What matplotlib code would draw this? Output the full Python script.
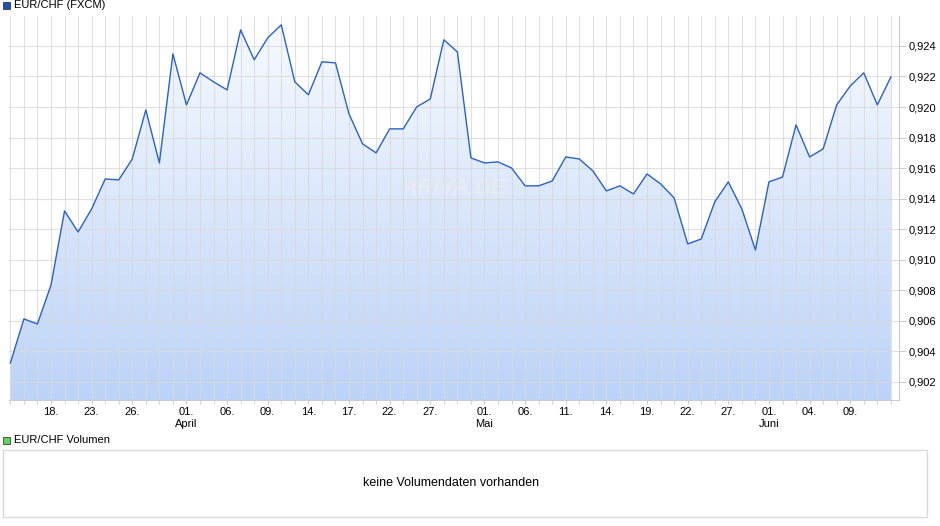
import numpy as np
import matplotlib
matplotlib.use("Agg")
import matplotlib.pyplot as plt
from matplotlib.patches import Polygon, Rectangle

# EUR/CHF daily closes
prices = [0.90324, 0.90613, 0.90580, 0.90835, 0.91320, 0.91182, 0.91333, 0.91529, 0.91523, 0.91660,
          0.91981, 0.91634, 0.92348, 0.92014, 0.92224, 0.92165, 0.92112, 0.92505, 0.92309, 0.92453,
          0.92538, 0.92165, 0.92080, 0.92296, 0.92289, 0.91955, 0.91759, 0.91700, 0.91857, 0.91857,
          0.92001, 0.92053, 0.92440, 0.92361, 0.91667, 0.91634, 0.91641, 0.91601, 0.91484, 0.91484,
          0.91516, 0.91673, 0.91660, 0.91582, 0.91451, 0.91484, 0.91431, 0.91562, 0.91497, 0.91405,
          0.91104, 0.91136, 0.91379, 0.91510, 0.91333, 0.91064, 0.91510, 0.91542, 0.91883, 0.91673,
          0.91726, 0.92014, 0.92138, 0.92224, 0.92014, 0.92197]
tick_idx = [3, 6, 9, 13, 16, 19, 22, 25, 28, 31, 35, 38, 41, 44, 47, 50, 53, 56, 59, 62]
tick_lbl = ["18.", "23.", "26.", "01.\nApril", "06.", "09.", "14.", "17.", "22.", "27.",
            "01.\nMai", "06.", "11.", "14.", "19.", "22.", "27.", "01.\nJuni", "04.", "09."]
yticks = [0.902, 0.904, 0.906, 0.908, 0.910, 0.912, 0.914, 0.916, 0.918, 0.920, 0.922, 0.924]

plt.rcParams["font.family"] = ["Liberation Sans", "DejaVu Sans"]
W, H = 940, 526
fig = plt.figure(figsize=(W / 100, H / 100), dpi=100)

ax = fig.add_axes([9 / W, 1 - 400 / H, 890 / W, 384 / H])
x = np.arange(len(prices))
y0, y1 = 0.90082, 0.92596
ax.set_xlim(-0.1, len(prices) - 1 + 0.6)
ax.set_ylim(y0, y1)

grad = np.linspace(0, 1, 256).reshape(-1, 1)
cmap = matplotlib.colors.LinearSegmentedColormap.from_list("g", ["#bcd3f8", "#f8fbff"])
im = ax.imshow(grad, cmap=cmap, origin="lower", aspect="auto",
               extent=[x[0], x[-1], y0, y1], zorder=1)
poly = Polygon(np.column_stack([np.r_[x[0], x, x[-1]], np.r_[y0, prices, y0]]),
               closed=True, transform=ax.transData, facecolor="none", edgecolor="none")
ax.add_patch(poly)
im.set_clip_path(poly)
ax.plot(x, prices, color="#2962c8", lw=1.0, zorder=3)

ax.set_xticks(x, minor=True)
ax.set_xticks(tick_idx)
ax.set_xticklabels(tick_lbl, fontsize=8, linespacing=1.3)
ax.set_yticks(yticks)
ax.set_yticklabels([f"{v:.3f}".replace(".", ",") for v in yticks], fontsize=8)
ax.yaxis.tick_right()
ax.set_axisbelow(False)
ax.grid(True, which="both", color="#d9d9d9", lw=0.8, alpha=0.8)
ax.tick_params(which="both", length=3, color="#cccccc", pad=2)
ax.tick_params(axis="y", length=5)
for s in ["top", "left"]:
    ax.spines[s].set_visible(False)
for s in ["bottom", "right"]:
    ax.spines[s].set_color("#cccccc")
ax.text(0.5, 0.55, "ARIVA.DE", transform=ax.transAxes, ha="center", va="center",
        fontsize=16, fontweight="bold", fontstyle="italic", color="#e8ecf2", zorder=2.4)

fig.patches.append(Rectangle((3 / W, 1 - 9 / H), 7 / W, 7 / H, transform=fig.transFigure,
                             facecolor="#1f4fb0", edgecolor="#222222", lw=0.5))
fig.text(14 / W, 1 - 5.5 / H, "EUR/CHF (FXCM)", fontsize=8, va="center")
fig.patches.append(Rectangle((3 / W, 1 - 443.5 / H), 7 / W, 7 / H, transform=fig.transFigure,
                             facecolor="#5fd35f", edgecolor="#222222", lw=0.5))
fig.text(14 / W, 1 - 440 / H, "EUR/CHF Volumen", fontsize=8, va="center")
fig.patches.append(Rectangle((3 / W, 1 - 517 / H), 924 / W, 67 / H, transform=fig.transFigure,
                             facecolor="white", edgecolor="#d9d9d9", lw=1))
fig.text(451 / W, 1 - 483 / H, "keine Volumendaten vorhanden", fontsize=9, ha="center", va="center")

fig.savefig("out.png", dpi=100)
